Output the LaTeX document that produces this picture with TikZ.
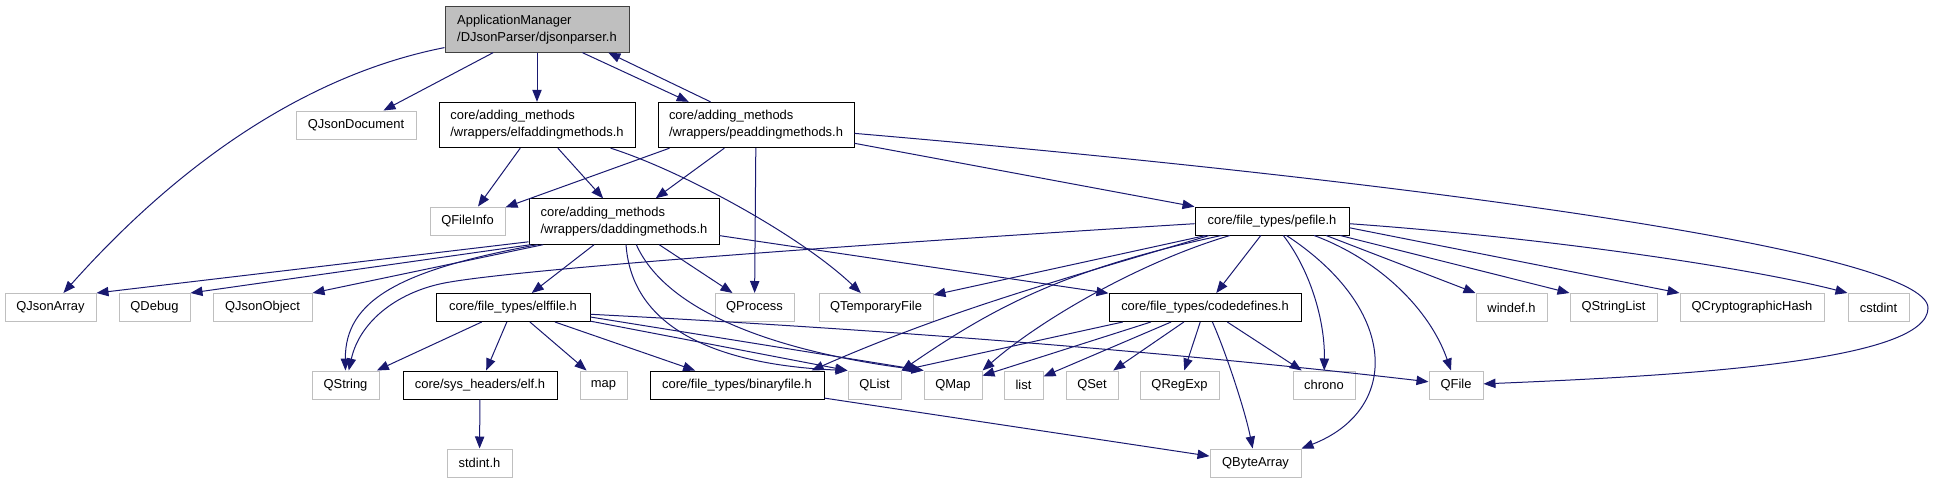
\documentclass[tikz,border=0pt]{standalone}
\usepackage{fontspec}
\setmainfont{Liberation Sans}
\usetikzlibrary{arrows.meta}
\definecolor{edgeblue}{HTML}{191970}
\definecolor{extgray}{HTML}{BFBFBF}
\definecolor{rootline}{HTML}{404040}
\tikzset{
  filebox/.style={draw, line width=0.75pt, fill=white, inner sep=0pt, align=left,
    minimum height=21pt, font=\fontsize{9.7}{12.6}\selectfont},
  docfile/.style={filebox, draw=black},
  extfile/.style={filebox, draw=extgray},
  rootfile/.style={filebox, draw=rootline, fill=extgray},
  twoline/.style={minimum height=34pt},
  boxw/.style={minimum width=#1*0.75pt},
  dep/.style={->, draw=edgeblue, line width=0.75pt}
}
\begin{document}
\begin{tikzpicture}[x=0.75pt, y=-0.75pt, >={Triangle[length=9pt,width=7pt]}]
    \useasboundingbox (0,0) rectangle (1933,483);

    \node[rootfile, twoline, boxw=184] (root) at (537,29.5) {ApplicationManager\\/DJsonParser/djsonparser.h};

    \node[extfile, boxw=120] (qjsondoc) at (356,125) {QJsonDocument};
    \node[docfile, twoline, boxw=196] (elfadd) at (537,125) {core/adding\_methods\\/wrappers/elfaddingmethods.h};
    \node[docfile, twoline, boxw=196] (peadd) at (756,125) {core/adding\_methods\\/wrappers/peaddingmethods.h};

    \node[extfile, boxw=75] (qfileinfo) at (467.5,221) {QFileInfo};
    \node[docfile, twoline, boxw=190] (dadd) at (624,221.5) {core/adding\_methods\\/wrappers/daddingmethods.h};
    \node[docfile, boxw=154] (pefile) at (1272,221) {core/file\_types/pefile.h};

    \node[extfile, boxw=91] (qjsonarray) at (50.5,307.5) {QJsonArray};
    \node[extfile, boxw=71] (qdebug) at (154.5,307.5) {QDebug};
    \node[extfile, boxw=99] (qjsonobject) at (262.5,307.5) {QJsonObject};
    \node[docfile, boxw=154] (elffile) at (513,307.5) {core/file\_types/elffile.h};
    \node[extfile, boxw=79] (qprocess) at (754.5,307.5) {QProcess};
    \node[extfile, boxw=114] (qtempfile) at (876,307.5) {QTemporaryFile};
    \node[docfile, boxw=192] (codedefines) at (1205,307.5) {core/file\_types/codedefines.h};
    \node[extfile, boxw=71] (windef) at (1511.5,307.5) {windef.h};
    \node[extfile, boxw=87] (qstringlist) at (1613.5,307.5) {QStringList};
    \node[extfile, boxw=144] (qcrypto) at (1752,307.5) {QCryptographicHash};
    \node[extfile, boxw=61] (cstdint) at (1878.5,307.5) {cstdint};

    \node[extfile, boxw=67] (qstring) at (345.5,385) {QString};
    \node[docfile, boxw=154] (elfh) at (480,385) {core/sys\_headers/elf.h};
    \node[extfile, boxw=47] (map) at (603.5,385) {map};
    \node[docfile, boxw=174] (binaryfile) at (737,385) {core/file\_types/binaryfile.h};
    \node[extfile, boxw=53] (qlist) at (874.5,385) {QList};
    \node[extfile, boxw=58] (qmap) at (953,385) {QMap};
    \node[extfile, boxw=39] (list) at (1023.5,385) {list};
    \node[extfile, boxw=52] (qset) at (1092,385) {QSet};
    \node[extfile, boxw=79] (qregexp) at (1179.5,385) {QRegExp};
    \node[extfile, boxw=62] (chrono) at (1324,385) {chrono};
    \node[extfile, boxw=54] (qfile) at (1456,385) {QFile};

    \node[extfile, boxw=65] (stdint) at (479.5,463) {stdint.h};
    \node[extfile, boxw=91] (qbytearray) at (1255.5,463) {QByteArray};

    \draw[dep] (root) .. controls (330,70) and (200,140) .. (qjsonarray);
    \draw[dep] (root) -- (qjsondoc);
    \draw[dep] (root) -- (elfadd);
    \draw[dep] (root.-27) -- (peadd.161);
    \draw[dep] (peadd.153) -- (root.-18);

    \draw[dep] (elfadd) -- (qfileinfo);
    \draw[dep] (elfadd) -- (dadd);
    \draw[dep] (elfadd) .. controls (680,170) and (800,235) .. (qtempfile);

    \draw[dep] (peadd.-165) -- (qfileinfo);
    \draw[dep] (peadd) -- (dadd);
    \draw[dep] (peadd) -- (qprocess);
    \draw[dep] (peadd) -- (pefile);
    \draw[dep] (peadd) .. controls (1400,180) and (1928,250) .. (1928,308)
        .. controls (1928,360) and (1700,375) .. (qfile);

    \draw[dep] (dadd.-168) -- (qjsonarray.north east);
    \draw[dep] (dadd.-166) -- (qdebug.north east);
    \draw[dep] (dadd.-164) -- (qjsonobject.north east);
    \draw[dep] (dadd.-165) .. controls (400,270) and (345,300) .. (qstring);
    \draw[dep] (dadd) -- (elffile);
    \draw[dep] (dadd) -- (qprocess);
    \draw[dep] (dadd.-85) .. controls (632,330) and (720,365) .. (qlist.north west);
    \draw[dep] (dadd.-62) .. controls (670,320) and (800,355) .. (qmap.north west);
    \draw[dep] (dadd) -- (codedefines);

    \draw[dep] (pefile.-178) .. controls (800,248) and (520,270) .. (450,282)
        .. controls (400,290) and (360,320) .. (qstring);
    \draw[dep] (pefile) -- (qtempfile);
    \draw[dep] (pefile.-167) .. controls (1060,280) and (950,310) .. (binaryfile.11);
    \draw[dep] (pefile.-164) .. controls (1060,270) and (990,310) .. (qlist.north east);
    \draw[dep] (pefile.-161) .. controls (1140,262) and (1040,320) .. (qmap.north east);
    \draw[dep] (pefile) -- (codedefines);
    \draw[dep] (pefile.-52) .. controls (1310,270) and (1325,320) .. (chrono);
    \draw[dep] (pefile.-45) .. controls (1400,310) and (1400,410) .. (qbytearray.north east);
    \draw[dep] (pefile.-19) .. controls (1380,260) and (1430,310) .. (qfile);
    \draw[dep] (pefile.-15) -- (windef.north west);
    \draw[dep] (pefile.-12) -- (qstringlist.north west);
    \draw[dep] (pefile.-5) -- (qcrypto.north west);
    \draw[dep] (pefile.-2) .. controls (1550,238) and (1750,268) .. (cstdint.north west);

    \draw[dep] (elffile) -- (qstring);
    \draw[dep] (elffile) -- (elfh);
    \draw[dep] (elffile) -- (map);
    \draw[dep] (elffile) -- (binaryfile);
    \draw[dep] (elffile.-10) -- (qlist.north west);
    \draw[dep] (elffile.-7.5) -- (qmap.north west);
    \draw[dep] (elffile.-5) .. controls (900,330) and (1200,355) .. (qfile);

    \draw[dep] (elfh) -- (stdint);
    \draw[dep] (binaryfile) -- (qbytearray);

    \draw[dep] (codedefines.-170) -- (qlist.north east);
    \draw[dep] (codedefines.-165) -- (qmap);
    \draw[dep] (codedefines) -- (list);
    \draw[dep] (codedefines) -- (qset);
    \draw[dep] (codedefines) -- (qregexp);
    \draw[dep] (codedefines) -- (chrono);
    \draw[dep] (codedefines.-63) .. controls (1225,350) and (1245,410) .. (qbytearray);
\end{tikzpicture}
\end{document}
